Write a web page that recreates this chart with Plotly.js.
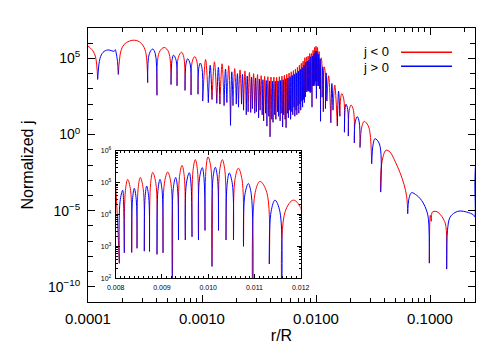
<!DOCTYPE html>
<html>
<head>
<meta charset="utf-8">
<script src="https://cdn.plot.ly/plotly-3.0.1.min.js"></script>
<style>
  html, body { margin: 0; padding: 0; background: #fff; }
  #chart { width: 501px; height: 358px; }
</style>
</head>
<body>
<div id="chart"></div>
<script>
// r/R at each zero of j (bottom of each dip) and log10|j| reached there
var zeroR = [7.0e-5, 1.216e-4, 1.844e-4, 3.339e-4, 4.029e-4, 5.349e-4, 6.036e-4, 7.095e-4, 8.010e-4, 9.224e-4,
  0.0010141, 0.0011361, 0.0012241, 0.0013477, 0.0014368, 0.0015619, 0.0016521, 0.0017788, 0.0018701, 0.0019984,
  0.0020908, 0.0022207, 0.0023143, 0.0024457, 0.0025404, 0.0026734, 0.0027692, 0.0029038, 0.0030007, 0.0031368,
  0.0032348, 0.0033725, 0.0034716, 0.0036109, 0.0037111, 0.0038520, 0.0039533, 0.0040957, 0.0041981, 0.0043421,
  0.0044457, 0.0045913, 0.0046960, 0.0048431, 0.0049489, 0.0050976, 0.0052045, 0.0053548, 0.0054628, 0.0056147,
  0.0057238, 0.0058772, 0.0059874, 0.0061424, 0.0062537, 0.0064103, 0.0065227, 0.0066808, 0.0067944, 0.0069541,
  0.0070688, 0.0072301, 0.0073459, 0.0075088, 0.0076257, 0.0077901, 0.0079081,
  0.008078, 0.008186, 0.008346, 0.008461, 0.008618, 0.008731, 0.008893, 0.009023, 0.009224, 0.009358,
  0.009505, 0.009650, 0.009790, 0.009931, 0.010082, 0.010223, 0.010385, 0.010547, 0.010763, 0.010962,
  0.011321, 0.011589,
  0.0121, 0.01245, 0.0135, 0.0141, 0.01538, 0.0162, 0.01775, 0.0192, 0.02168, 0.02432,
  0.0308, 0.03694, 0.06374, 0.0986, 0.1401, 0.26];
var zeroLogJ = [3.5, 3.62, 3.95, 3.41, 2.58, 3.28, 3.2, 2.9, 2.6, 2.65,
  2.2, 2.1, 2.3, 2.05, 2.0, 1.9, 2.1, 0.6, 1.9, 2.0,
  1.8, 2.0, 1.6, 1.3, 1.5, 1.45, 1.7, 1.4, 1.5, 1.1,
  1.6, 1.3, 0.9, 1.4, 0.55, 1.2, -0.15, 1.0, 0.8, 1.3,
  1.0, 1.5, 1.2, 0.9, 1.4, 0.5, 1.3, 1.0, 0.45, 1.4,
  1.1, 1.6, 1.0, 1.5, 1.3, 1.8, 1.2, 1.6, 1.3, 1.9,
  1.4, 2.0, 1.6, 2.2, 1.8, 2.3, 2.1,
  2.47, 2.8, 2.81, 2.94, 2.85, 2.84, 2.75, 2.8, 1.8, 3.2,
  3.2, 3.3, 3.2, 3.5, 2.37, 3.5, 3.2, 3.2, 3.0, 0.87,
  2.45, 1.5,
  1.7, 2.2, 0.77, 1.6, 0.56, 1.2, 0.15, -0.1, -0.55, -0.85,
  -1.92, -3.78, -5.2, -8.45, -8.84, 0.5];

// top of each arch between two zeros
var crestR = [9.3e-5, 1.489e-4, 2.547e-4, 3.694e-4, 4.67e-4, 5.63e-4, 6.62e-4, 7.49e-4, 8.63e-4, 9.66e-4,
  0.0010751, 0.0011801, 0.0012859, 0.0013923, 0.0014994, 0.0016070, 0.0017155, 0.0018245, 0.0019343, 0.0020446,
  0.0021558, 0.0022675, 0.0023800, 0.0024931, 0.0026069, 0.0027213, 0.0028365, 0.0029523, 0.0030688, 0.0031858,
  0.0033037, 0.0034221, 0.0035413, 0.0036610, 0.0037816, 0.0039027, 0.0040245, 0.0041469, 0.0042701, 0.0043939,
  0.0045185, 0.0046437, 0.0047696, 0.0048960, 0.0050233, 0.0051511, 0.0052797, 0.0054088, 0.0055388, 0.0056693,
  0.0058005, 0.0059323, 0.0060649, 0.0061981, 0.0063320, 0.0064665, 0.0066018, 0.0067376, 0.0068743, 0.0070115,
  0.0071495, 0.0072880, 0.0074274, 0.0075673, 0.0077079, 0.0078491, 0.0079800,
  0.008151, 0.008259, 0.008402, 0.008532, 0.008670, 0.008800, 0.008958, 0.009124, 0.009297, 0.009434,
  0.009591, 0.009721, 0.009872, 0.009996, 0.010154, 0.010305, 0.010456, 0.010651, 0.010867, 0.011120,
  0.011444, 0.011840,
  0.01228, 0.0129, 0.01378, 0.0146, 0.01578, 0.0168, 0.01833, 0.0203, 0.02303, 0.02653,
  0.03292, 0.04111, 0.06883, 0.1129, 0.1833];
var crestLogJ = [5.85, 5.56, 6.2, 5.62, 5.72, 5.22, 5.41, 4.98, 5.12, 4.7,
  4.93, 4.55, 4.78, 4.42, 4.65, 4.3, 4.52, 4.12, 4.33, 4.0,
  4.25, 3.95, 4.18, 3.85, 4.08, 3.78, 4.0, 3.72, 3.94, 3.65,
  3.87, 3.6, 3.82, 3.55, 3.8, 3.52, 3.78, 3.5, 3.77, 3.5,
  3.76, 3.52, 3.8, 3.55, 3.84, 3.6, 3.9, 3.66, 3.96, 3.72,
  4.04, 3.8, 4.12, 3.88, 4.2, 3.96, 4.3, 4.05, 4.42, 4.15,
  4.55, 4.28, 4.68, 4.4, 4.82, 4.55, 5.05,
  4.76, 5.1, 4.82, 5.16, 4.89, 5.32, 5.1, 5.33, 5.16, 5.54,
  5.31, 5.72, 5.47, 5.81, 5.48, 5.72, 5.3, 5.45, 4.97, 5.04,
  4.45, 4.45,
  4.05, 3.86, 3.35, 3.25, 2.85, 2.69, 2.0, 1.94, 1.18, 0.87,
  -0.27, -1.03, -3.82, -5.05, -5.02];

// sign of j on each arch: '-' is j < 0 (red), '+' is j > 0 (blue)
var archSign = '-+-+-+-+' + '-+-+-+-+' + '-+-+-+-+' + '-+-+-+-+' + '-+-+-+-+' +
  '-+-+-+-+' + '-+-+-+-+' + '-+-+-+-+' + '-+-+-+-+' + '-+-+-+-+' +
  '-+-+-+-+' + '-+-+-+-+' + '-+-+-+-+';

// more points read along the wider arches (shoulders, kinks)
var shapeR = [1.0e-4, 1.10e-4, 1.164e-4,
  1.274e-4, 1.354e-4, 1.62e-4, 1.70e-4, 1.736e-4, 1.76e-4, 1.815e-4,
  1.889e-4, 1.948e-4, 2.081e-4, 2.303e-4, 2.818e-4, 3.056e-4, 3.228e-4,
  3.449e-4, 3.894e-4, 4.22e-4, 5.105e-4,
  5.452e-4, 5.933e-4, 6.195e-4, 6.936e-4, 7.232e-4, 7.873e-4, 8.192e-4, 9.042e-4, 9.362e-4, 1.0003e-3,
  0.008094, 0.008170, 0.008210, 0.008322, 0.008363, 0.008444, 0.008485, 0.008594, 0.008635, 0.008714,
  0.008755, 0.008869, 0.008913, 0.009003, 0.009053, 0.009194, 0.009244, 0.009338, 0.009380, 0.009483,
  0.009527, 0.009628, 0.009671, 0.009769, 0.009811, 0.009910, 0.009954, 0.010059, 0.010103, 0.010202,
  0.010247, 0.010361, 0.010409, 0.010523, 0.010579, 0.010731, 0.010793, 0.010932, 0.011016, 0.011267,
  0.011361, 0.011549, 0.011666, 0.0120,
  0.01643, 0.01752, 0.01797, 0.01898, 0.01957, 0.02131, 0.02208, 0.02392,
  0.02529, 0.02858, 0.02977, 0.03172, 0.03602,
  0.03755, 0.04458, 0.04932, 0.05455, 0.05911, 0.06246,
  0.06541, 0.07643, 0.08174, 0.08735, 0.09356, 0.0970,
  0.1006, 0.1026, 0.1047, 0.1224, 0.1308, 0.1373,
  0.1423, 0.1498, 0.1657, 0.2099, 0.2398, 0.2466, 0.2478];
var shapeLogJ = [5.8, 5.51, 5.1,
  5.0, 5.4, 5.5, 5.47, 5.58, 5.42, 4.8,
  4.9, 5.52, 5.93, 6.14, 6.1, 5.82, 5.31,
  5.31, 5.31, 5.41, 5.41,
  4.87, 4.87, 5.06, 5.06, 4.63, 4.63, 4.77, 4.77, 4.35, 4.35,
  4.41, 4.41, 4.75, 4.75, 4.47, 4.47, 4.81, 4.81, 4.54, 4.54,
  4.97, 4.97, 4.75, 4.75, 4.98, 4.98, 4.81, 4.81, 5.19, 5.19,
  4.96, 4.96, 5.37, 5.37, 5.12, 5.12, 5.46, 5.46, 5.13, 5.13,
  5.37, 5.37, 4.95, 4.95, 5.1, 5.1, 4.62, 4.62, 4.69, 4.69,
  4.1, 4.1, 4.1, 4.2,
  2.34, 2.34, 1.65, 1.65, 1.59, 1.59, 0.83, 0.83,
  0.55, 0.6, 0.1, -0.62, -0.62,
  -2.0, -1.15, -1.75, -2.5, -3.26, -4.09,
  -4.2, -3.99, -4.2, -4.5, -5.02, -5.6,
  -5.3, -5.7, -5.1, -5.23, -5.54, -5.95,
  -6.3, -5.44, -5.12, -5.09, -5.27, -5.4, -3.0];

// ticks
var tickR = [0.0001, 0.001, 0.01, 0.1];
var tickRText = ['0.0001', '0.0010', '0.0100', '0.1000'];
var tickJ = [1e-10, 1e-5, 1, 1e5];
var tickJText = ['10<sup>\u221210</sup>', '10<sup>\u22125</sup>', '10<sup>0</sup>', '10<sup>5</sup>'];
var insetTickR = [0.008, 0.009, 0.010, 0.011, 0.012];
var insetTickRText = ['0.008', '0.009', '0.010', '0.011', '0.012'];
var insetTickJ = [1e2, 1e3, 1e4, 1e5, 1e6];
var insetTickJText = ['10<sup>2</sup>', '10<sup>3</sup>', '10<sup>4</sup>', '10<sup>5</sup>', '10<sup>6</sup>'];
var legendText = ['j < 0', 'j > 0'];

var rojo = 'rgb(255,0,0)';
var azul = 'rgb(0,0,255)';
var fuente = 'Liberation Sans, Arial, sans-serif';

// split the arches into the j<0 and j>0 traces
function armarArcos() {
  var neg = {x: [], y: []};
  var pos = {x: [], y: []};
  for (var i = 0; i < crestR.length; i++) {
    var pts = [[zeroR[i], zeroLogJ[i]], [crestR[i], crestLogJ[i]], [zeroR[i + 1], zeroLogJ[i + 1]]];
    for (var k = 0; k < shapeR.length; k++) {
      if (shapeR[k] > zeroR[i] && shapeR[k] < zeroR[i + 1]) pts.push([shapeR[k], shapeLogJ[k]]);
    }
    pts.sort(function (a, b) { return a[0] - b[0]; });
    var t = archSign.charAt(i) === '-' ? neg : pos;
    for (var p = 0; p < pts.length; p++) {
      t.x.push(pts[p][0]);
      t.y.push(Math.pow(10, pts[p][1]));
    }
    t.x.push(null);
    t.y.push(null);
  }
  return [neg, pos];
}

// minor tick positions
function menoresLog(e0, e1, tope) {
  var v = [];
  for (var e = e0; e <= e1; e++) {
    for (var m = 2; m <= 9; m++) {
      var t = m * Math.pow(10, e);
      if (t <= tope) v.push(t);
    }
  }
  return v;
}
var minorX = menoresLog(-4, -1, 0.25);
var minorY = [];
for (var e = -11; e <= 7; e++) {
  if (e !== -10 && e !== -5 && e !== 0 && e !== 5) minorY.push(Math.pow(10, e));
}
var minorInsetY = menoresLog(2, 5, 1e6);
var minorInsetX = [];
for (var q = 81; q < 120; q++) {
  if (q % 10 !== 0) minorInsetX.push(q / 10000);
}

var arcos = armarArcos();
var linea = {width: 1, shape: 'spline', smoothing: 1};

var data = [
  {x: arcos[0].x, y: arcos[0].y, type: 'scatter', mode: 'lines', line: Object.assign({color: rojo}, linea), xaxis: 'x', yaxis: 'y', hoverinfo: 'skip'},
  {x: arcos[1].x, y: arcos[1].y, type: 'scatter', mode: 'lines', line: Object.assign({color: azul}, linea), xaxis: 'x', yaxis: 'y', hoverinfo: 'skip'},
  {x: arcos[0].x, y: arcos[0].y, type: 'scatter', mode: 'lines', line: Object.assign({color: rojo}, linea), xaxis: 'x2', yaxis: 'y2', hoverinfo: 'skip'},
  {x: arcos[1].x, y: arcos[1].y, type: 'scatter', mode: 'lines', line: Object.assign({color: azul}, linea), xaxis: 'x2', yaxis: 'y2', hoverinfo: 'skip'}
];

var ejeBase = {
  showgrid: false, zeroline: false, showline: true, linecolor: 'black', linewidth: 1,
  mirror: 'allticks', ticks: 'inside', tickcolor: 'black', tickwidth: 1,
  tickmode: 'array', tickfont: {family: fuente, color: 'black'}
};

var layout = {
  width: 501, height: 358,
  margin: {l: 88, r: 26, t: 28, b: 56},
  paper_bgcolor: 'white', plot_bgcolor: 'white',
  showlegend: false,
  font: {family: fuente, color: 'black'},
  xaxis: Object.assign({}, ejeBase, {
    type: 'log', range: [-4, -0.6053],
    tickvals: tickR, ticktext: tickRText, ticklen: 7, ticklabelstandoff: 3,
    tickfont: {family: fuente, size: 15, color: 'black'},
    minor: {ticks: 'inside', ticklen: 4, tickcolor: 'black', tickmode: 'array', tickvals: minorX},
    title: {text: 'r/R', font: {family: fuente, size: 16, color: 'black'}, standoff: 3}
  }),
  yaxis: Object.assign({}, ejeBase, {
    type: 'log', range: [-11, 7],
    tickvals: tickJ, ticktext: tickJText, ticklen: 7, ticklabelstandoff: 4,
    tickfont: {family: fuente, size: 14, color: 'black'},
    minor: {ticks: 'inside', ticklen: 5, tickcolor: 'black', tickmode: 'array', tickvals: minorY},
    title: {text: 'Normalized j', font: {family: fuente, size: 16, color: 'black'}, standoff: 10}
  }),
  xaxis2: Object.assign({}, ejeBase, {
    domain: [0.0716, 0.5496], anchor: 'y2', range: [0.008, 0.012],
    tickvals: insetTickR, ticktext: insetTickRText, ticklen: 4, ticklabelstandoff: 2,
    tickfont: {family: fuente, size: 7, color: 'black'},
    minor: {ticks: 'inside', ticklen: 2, tickcolor: 'black', tickmode: 'array', tickvals: minorInsetX}
  }),
  yaxis2: Object.assign({}, ejeBase, {
    domain: [0.0864, 0.5523], anchor: 'x2', type: 'log', range: [2, 6],
    tickvals: insetTickJ, ticktext: insetTickJText, ticklen: 4, ticklabelstandoff: 2,
    tickfont: {family: fuente, size: 7, color: 'black'},
    minor: {ticks: 'inside', ticklen: 2, tickcolor: 'black', tickmode: 'array', tickvals: minorInsetY}
  }),
  annotations: [
    {xref: 'paper', yref: 'paper', x: 0.7804, y: 0.9150, xanchor: 'right', yanchor: 'middle', showarrow: false,
     borderpad: 0, text: legendText[0], font: {family: fuente, size: 13, color: 'black'}},
    {xref: 'paper', yref: 'paper', x: 0.7804, y: 0.8550, xanchor: 'right', yanchor: 'middle', showarrow: false,
     borderpad: 0, text: legendText[1], font: {family: fuente, size: 13, color: 'black'}}
  ],
  shapes: [
    {type: 'line', xref: 'paper', yref: 'paper', x0: 0.8088, x1: 0.9406, y0: 0.9114, y1: 0.9114, line: {color: rojo, width: 1.5}},
    {type: 'line', xref: 'paper', yref: 'paper', x0: 0.8088, x1: 0.9406, y0: 0.8604, y1: 0.8604, line: {color: azul, width: 1.5}}
  ]
};

Plotly.newPlot('chart', data, layout, {staticPlot: true, displayModeBar: false});
</script>
</body>
</html>
